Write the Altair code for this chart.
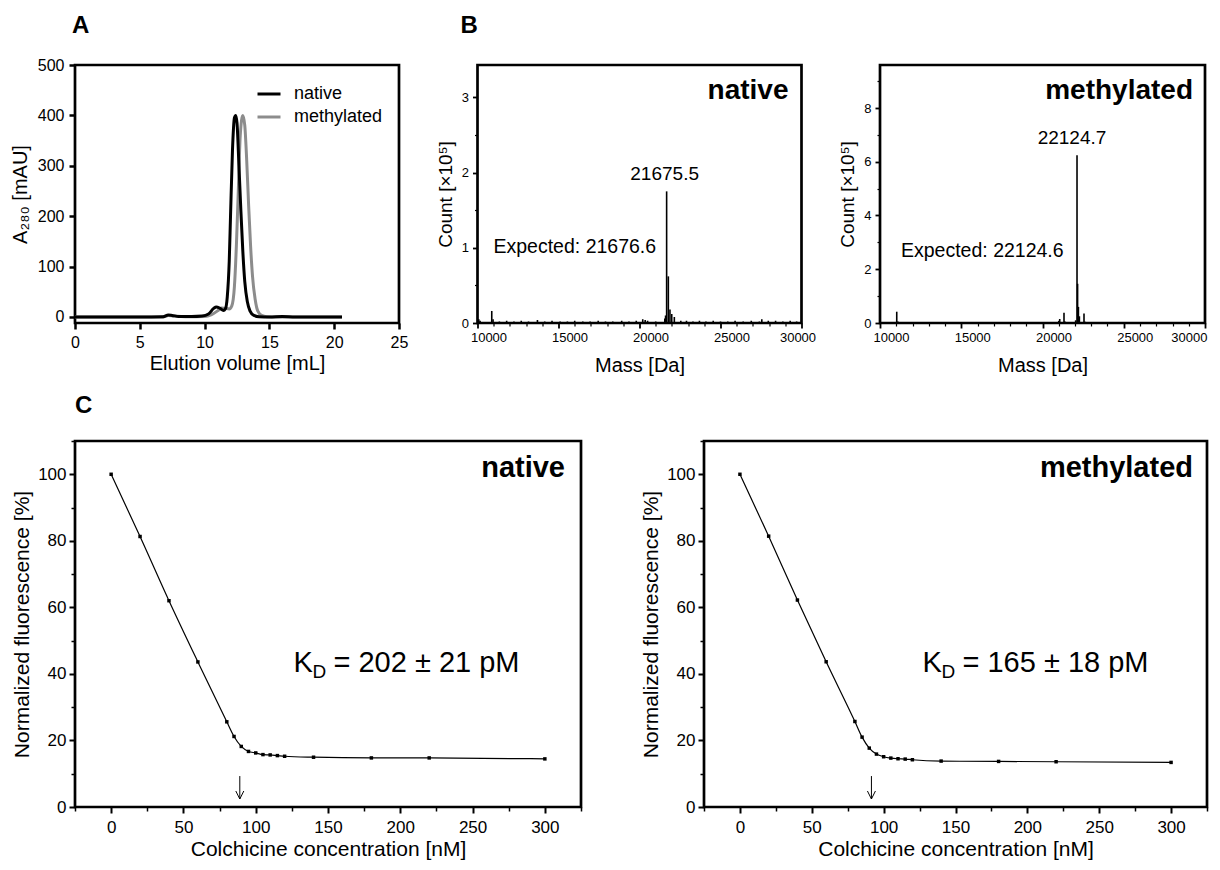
import altair as alt
import pandas as pd

FONT = "Liberation Sans, Arial, Helvetica, sans-serif"

# ---------------- Panel A : elution profiles ----------------
a_native_vol = [0, 5, 6.8, 7.2, 7.5, 8.0, 9.0, 9.8, 10.3, 10.7, 10.9, 11.2, 11.45, 11.6, 11.75, 11.9,
                12.0, 12.15, 12.3, 12.4, 12.5, 12.65, 12.8, 12.95, 13.1, 13.3, 13.5, 13.8, 14.2, 15.0,
                16.0, 17.0, 18.0, 19.0, 20.0, 20.6]
a_native_abs = [0, 0, 0.5, 4, 3, 1, 1, 2, 6, 17, 20, 17, 13, 16, 40, 110,
                200, 330, 395, 400, 385, 300, 210, 130, 70, 30, 12, 3, 0.5, 0,
                1, 0, 0, 0, 0, 0]
a_meth_vol = [0, 6.8, 7.2, 7.6, 8.5, 10.0, 10.5, 11.0, 11.3, 11.6, 11.9, 12.1, 12.3, 12.45, 12.6,
              12.75, 12.95, 13.1, 13.25, 13.4, 13.55, 13.7, 13.9, 14.1, 14.4, 14.8, 15.5, 20.6]
a_meth_abs = [0, 0, 3, 2, 0.5, 1, 4, 12, 18, 17, 16, 22, 60, 140, 250,
              360, 400, 380, 310, 220, 140, 80, 35, 12, 3, 0.5, 0, 0]
a_series = ["native", "methylated"]
a_colors = ["#000000", "#8c8c8c"]
a_xticks = [0, 5, 10, 15, 20, 25]
a_yticks = [0, 100, 200, 300, 400, 500]

# ---------------- Panel B : mass spectra ----------------
b_native_mass = [10080, 10160, 10880, 10960, 11350, 11800, 12250, 12700, 13150, 13700,
                 14150, 14600, 15100, 15550, 16000, 16500, 16950, 17450, 17900, 18350,
                 18900, 19350, 19800, 20200, 20350, 20500, 21000, 21560, 21610, 21675,
                 21780, 21880, 21990, 22150, 22550, 22900, 23300, 23700, 24100, 24550,
                 25000, 25450, 25900, 26400, 26900, 27400, 27550, 27950, 28400, 28850,
                 29300, 29700]
b_native_count = [0.05, 0.03, 0.16, 0.05, 0.02, 0.03, 0.02, 0.03, 0.02, 0.04,
                  0.02, 0.03, 0.02, 0.02, 0.03, 0.02, 0.02, 0.03, 0.02, 0.02,
                  0.03, 0.02, 0.03, 0.05, 0.04, 0.03, 0.02, 0.06, 0.1, 1.75,
                  0.62, 0.18, 0.12, 0.08, 0.03, 0.03, 0.02, 0.03, 0.02, 0.03,
                  0.02, 0.02, 0.03, 0.02, 0.03, 0.02, 0.05, 0.03, 0.03, 0.02,
                  0.03, 0.02]
b_meth_mass = [10150, 11030, 11100, 12500, 14000, 16000, 18000, 19500, 20500, 21000,
               21060, 21323, 21380, 22040, 22124, 22160, 22210, 22270, 22554, 22620,
               23500, 25000, 27000, 29000]
b_meth_count = [0.03, 0.42, 0.06, 0.02, 0.02, 0.02, 0.02, 0.02, 0.03, 0.08,
                0.15, 0.38, 0.06, 0.1, 6.24, 1.46, 0.6, 0.25, 0.35, 0.05,
                0.02, 0.02, 0.02, 0.02]
b_xticks = [10000, 15000, 20000, 25000, 30000]
b_xminor = [11000, 12000, 13000, 14000, 16000, 17000, 18000, 19000,
            21000, 22000, 23000, 24000, 26000, 27000, 28000, 29000]
b_native_yticks = [0, 1, 2, 3]
b_native_yminor = [0.5, 1.5, 2.5]
b_meth_yticks = [0, 2, 4, 6, 8]
b_meth_yminor = [1, 3, 5, 7, 9]

# ---------------- Panel C : colchicine titration ----------------
c_conc = [0, 20, 40, 60, 80, 85, 90, 95, 100, 105, 110, 115, 120, 140, 180, 220, 300]
c_native = [100, 81.3, 62.0, 43.6, 25.6, 21.2, 18.2, 16.7, 16.25, 15.75, 15.65, 15.45, 15.25,
            14.96, 14.75, 14.75, 14.46]
c_meth = [100, 81.4, 62.2, 43.65, 25.7, 21.0, 17.7, 15.9, 15.1, 14.7, 14.5, 14.4, 14.2,
          13.8, 13.7, 13.6, 13.4]
c_native_arrow = [89]
c_meth_arrow = [91.5]
c_arrow_top = [9.3]
c_arrow_tip = [2.4]
c_xticks = [0, 50, 100, 150, 200, 250, 300]
c_xminor = [-25, 25, 75, 125, 175, 225, 275, 325]
c_yticks = [0, 20, 40, 60, 80, 100]
c_yminor = [10, 30, 50, 70, 90, 110]

FRAME = alt.ViewBackground(stroke="black", strokeWidth=2.7, fill="white")


def axis(values, title, lsize, tsize, tick, twidth, lpad, tpad, **kw):
    return alt.Axis(values=values, title=title, labelFontSize=lsize, titleFontSize=tsize,
                    tickSize=tick, tickWidth=twidth, labelPadding=lpad, titlePadding=tpad,
                    domain=False, grid=False, tickColor="black", labelColor="black",
                    titleColor="black", labelFont=FONT, titleFont=FONT,
                    titleFontWeight="normal", labelFlush=False, labelOverlap=False, **kw)


def minor_axis(values, tick, twidth, orient):
    return alt.Axis(values=values, labels=False, title=None, tickSize=tick, tickWidth=twidth,
                    domain=False, grid=False, tickColor="black", orient=orient)


def txt(s, x, y, size, weight="normal", align="left", baseline="alphabetic"):
    return alt.Chart(pd.DataFrame({"t": [s]})).mark_text(
        align=align, baseline=baseline, fontSize=size, fontWeight=weight, font=FONT,
        color="black").encode(text="t:N", x=alt.value(x), y=alt.value(y))


# ---------- A ----------
dfA = pd.DataFrame({
    "vol": a_meth_vol + a_native_vol,
    "abs": a_meth_abs + a_native_abs,
    "series": ["methylated"] * len(a_meth_vol) + ["native"] * len(a_native_vol),
})
xA = alt.Scale(domain=[0, 25], nice=False, zero=False)
yA = alt.Scale(domain=[-12, 500], nice=False, zero=False)
lineA = alt.Chart(dfA).mark_line(strokeWidth=3, interpolate="monotone").encode(
    x=alt.X("vol:Q", scale=xA, axis=axis(a_xticks, "Elution volume [mL]", 16, 20, 6, 2.5, 5, 3)),
    y=alt.Y("abs:Q", scale=yA, axis=axis(a_yticks, "A₂₈₀ [mAU]", 16, 20, 6, 2.5, 5, 7)),
    color=alt.Color("series:N", scale=alt.Scale(domain=a_series, range=a_colors),
                    legend=alt.Legend(title=None, orient="none", legendX=181, legendY=16,
                                      symbolType="stroke", symbolStrokeWidth=3, symbolSize=529,
                                      labelFontSize=18, labelFont=FONT, labelColor="black",
                                      labelOffset=12, rowPadding=1, padding=0)),
)
panelA = alt.layer(lineA, txt("A", -3, -32, 24, "bold")).properties(
    width=324, height=258, view=FRAME)


# ---------- B ----------
def spectrum(mass, count, ydom, yticks, yminor, label, label_mass, label_dx, label_y,
             expected, exp_x, exp_y, name, name_x, last_align, last_offset, letter=None):
    df = pd.DataFrame({"mass": mass, "count": count})
    xs = alt.Scale(domain=[10000, 30000], nice=False, zero=False)
    ys = alt.Scale(domain=ydom, nice=False, zero=False)
    shift = {"condition": {"test": "datum.value == 30000", "value": last_offset}, "value": 11}
    align = {"condition": {"test": "datum.value == 30000", "value": last_align},
             "value": "center"}
    rules = alt.Chart(df).mark_rule(strokeWidth=1.6, color="black").encode(
        x=alt.X("mass:Q", scale=xs, axis=axis(b_xticks, "Mass [Da]", 13, 20, 5, 1.8, 3, 11,
                                              labelOffset=shift, labelAlign=align,
                                              format="d")),
        y=alt.Y("count:Q", scale=ys, axis=axis(yticks, "Count [×10⁵]", 13, 19, 5, 1.8, 4, 6)),
        y2=alt.datum(0),
    )
    minor = alt.Chart(df).mark_point(opacity=0).encode(
        x=alt.X("mass:Q", scale=xs, axis=minor_axis(b_xminor, 3, 1.2, "bottom")),
        y=alt.Y("count:Q", scale=ys, axis=minor_axis(yminor, 3, 1.2, "left")),
    )
    peak = alt.Chart(pd.DataFrame({"t": [label]})).mark_text(
        align="center", baseline="alphabetic", fontSize=19, font=FONT, color="black",
        dx=label_dx).encode(text="t:N",
                            x=alt.X(datum=label_mass, type="quantitative", scale=xs, axis=None),
                            y=alt.value(label_y))
    layers = [rules, minor, peak, txt(expected, exp_x, exp_y, 19.5),
              txt(name, name_x, 34, 28, "bold", "right")]
    if letter:
        layers.append(txt(letter, -17, -32, 24, "bold"))
    return alt.layer(*layers).resolve_axis(x="independent", y="independent")


panelBn = spectrum(b_native_mass, b_native_count, [0, 3.43], b_native_yticks, b_native_yminor,
                   "21675.5", 21675, -2, 115, "Expected: 21676.6", 16, 188, "native", 311,
                   "center", -4, letter="B").properties(width=324, height=258, view=FRAME)
panelBm = spectrum(b_meth_mass, b_meth_count, [0, 9.6], b_meth_yticks, b_meth_yminor,
                   "22124.7", 22124, -5, 79, "Expected: 22124.6", 21, 192, "methylated",
                   313, "right", 2).properties(width=325, height=258, view=FRAME)


# ---------- C ----------
def titration(values, arrow_x, name, name_x, kd_text, letter=None):
    df = pd.DataFrame({"conc": c_conc, "fl": values})
    xs = alt.Scale(domain=[-25, 325], nice=False, zero=False)
    ys = alt.Scale(domain=[0, 110], nice=False, zero=False)
    line = alt.Chart(df).mark_line(strokeWidth=1.2, color="black", interpolate="monotone").encode(
        x=alt.X("conc:Q", scale=xs,
                axis=axis(c_xticks, "Colchicine concentration [nM]", 17, 21, 6, 2, 6, 3)),
        y=alt.Y("fl:Q", scale=ys,
                axis=axis(c_yticks, "Normalized fluorescence [%]", 17, 21, 6, 2, 3, 5)),
    )
    pts = alt.Chart(df).mark_point(shape="square", filled=True, size=12, color="black",
                                   opacity=1).encode(
        x=alt.X("conc:Q", scale=xs, axis=None), y=alt.Y("fl:Q", scale=ys, axis=None))
    minor = alt.Chart(df).mark_point(opacity=0).encode(
        x=alt.X("conc:Q", scale=xs, axis=minor_axis(c_xminor, 4, 1.5, "bottom")),
        y=alt.Y("fl:Q", scale=ys, axis=minor_axis(c_yminor, 4, 1.5, "left")),
    )
    dfa = pd.DataFrame({"x": arrow_x, "top": c_arrow_top, "tip": c_arrow_tip})
    shaft = alt.Chart(dfa).mark_rule(strokeWidth=1, color="black").encode(
        x=alt.X("x:Q", scale=xs, axis=None), y=alt.Y("top:Q", scale=ys, axis=None),
        y2="tip:Q")
    head = alt.Chart(dfa).mark_point(shape="M-1,-2L0,0L1,-2", filled=False, size=64,
                                     strokeWidth=1, color="black", opacity=1).encode(
        x=alt.X("x:Q", scale=xs, axis=None), y=alt.Y("tip:Q", scale=ys, axis=None))
    layers = [line, minor, pts, shaft, head,
              txt(name, name_x, 36, 29, "bold", "right"),
              txt("K", 218.5, 231, 29), txt("D", 237.5, 237, 19), txt(kd_text, 258.5, 231, 29)]
    if letter:
        layers.append(txt(letter, 0, -28, 24, "bold"))
    return alt.layer(*layers).resolve_axis(x="independent", y="independent")


panelCn = titration(c_native, c_native_arrow, "native", 490, "= 202 ± 21 pM",
                    letter="C").properties(width=506, height=366, view=FRAME)
panelCm = titration(c_meth, c_meth_arrow, "methylated", 489,
                    "= 165 ± 18 pM").properties(width=503, height=366, view=FRAME)

top = alt.hconcat(panelA, panelBn, panelBm, spacing=78.5, bounds="flush")
bottom = alt.hconcat(panelCn, panelCm, spacing=123, bounds="flush")

chart = alt.vconcat(top, bottom, spacing=15).properties(
    padding={"left": 0, "top": 4, "right": 0, "bottom": 0}
).configure_view(stroke="black", strokeWidth=2.7).configure_text(font=FONT)

chart.save("out.html", embed_options={"renderer": "svg", "actions": False})
